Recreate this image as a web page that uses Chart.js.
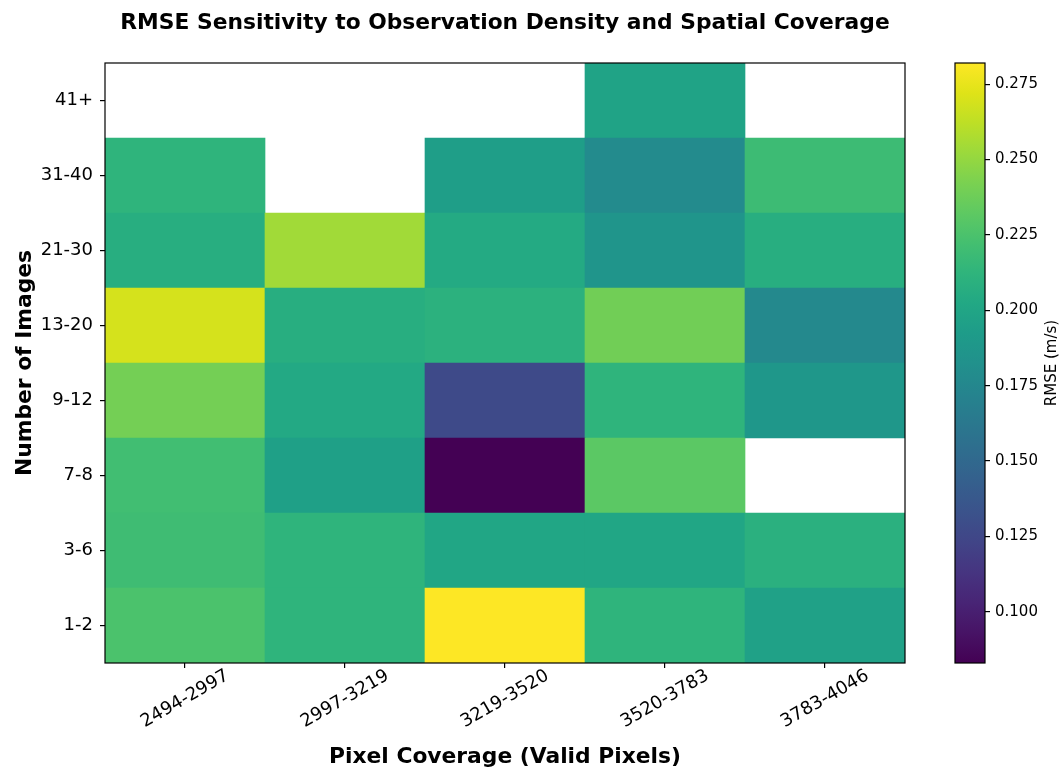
<!DOCTYPE html>
<html>
<head>
<meta charset="utf-8">
<script src="https://cdn.jsdelivr.net/npm/chart.js@4.4.1/dist/chart.umd.min.js"></script>
<style>
  html, body { margin: 0; padding: 0; background: #ffffff; }
  #wrap { position: relative; width: 1061px; height: 768px; overflow: hidden; background: #ffffff; }
  #heat { position: absolute; left: 0; top: 0; }
  #cbar { position: absolute; left: 940px; top: 0; }
</style>
</head>
<body>
<div id="wrap">
  <canvas id="heat" width="1010" height="768" style="width:1010px;height:768px"></canvas>
  <canvas id="cbar" width="121" height="768" style="width:121px;height:768px"></canvas>
</div>
<script>
// Column categories: valid-pixel coverage bins
const coverageBins = ['2494-2997', '2997-3219', '3219-3520', '3520-3783', '3783-4046'];
// Row categories: number of images used (bottom to top)
const imageBins = ['1-2', '3-6', '7-8', '9-12', '13-20', '21-30', '31-40', '41+'];

// RMSE (m/s) per coverage bin, one array per image-count bin; null = no data
const rmse_1_2   = [0.225, 0.212, 0.282, 0.212, 0.197];
const rmse_3_6   = [0.220, 0.212, 0.201, 0.201, 0.209];
const rmse_7_8   = [0.221, 0.196, 0.083, 0.231, null];
const rmse_9_12  = [0.240, 0.203, 0.127, 0.212, 0.188];
const rmse_13_20 = [0.269, 0.207, 0.210, 0.239, 0.176];
const rmse_21_30 = [0.207, 0.254, 0.204, 0.186, 0.207];
const rmse_31_40 = [0.212, null, 0.194, 0.178, 0.219];
const rmse_41    = [null, null, null, 0.198, null];

// Colorbar tick values
const colorbarTicks = [0.100, 0.125, 0.150, 0.175, 0.200, 0.225, 0.250, 0.275];

const chartTitle = 'RMSE Sensitivity to Observation Density and Spatial Coverage';

const rowValues = [rmse_1_2, rmse_3_6, rmse_7_8, rmse_9_12, rmse_13_20, rmse_21_30, rmse_31_40, rmse_41];

const allValues = rowValues.flat().filter(v => v !== null);
const vmin = Math.min(...allValues);
const vmax = Math.max(...allValues);

// Viridis colormap sampled every 0.05
const VIRIDIS = ['#440154', '#471365', '#482475', '#463480', '#414487', '#3b528b', '#355f8d',
  '#2f6c8e', '#2a788e', '#25848e', '#21918c', '#1e9c89', '#22a884', '#2fb47c', '#44bf70',
  '#5ec962', '#7ad151', '#9bd93c', '#bddf26', '#dfe318', '#fde725'];
const VIRIDIS_RGB = VIRIDIS.map(h => [1, 3, 5].map(i => parseInt(h.slice(i, i + 2), 16)));

function viridis(t) {
  t = Math.max(0, Math.min(1, t));
  const n = VIRIDIS_RGB.length - 1;
  const p = t * n;
  const i = Math.min(n - 1, Math.floor(p));
  const f = p - i;
  const a = VIRIDIS_RGB[i], b = VIRIDIS_RGB[i + 1];
  const c = a.map((v, k) => Math.round(v + (b[k] - v) * f));
  return 'rgb(' + c.join(',') + ')';
}
const colorFor = v => (v === null ? 'rgba(0,0,0,0)' : viridis((v - vmin) / (vmax - vmin)));

const FONT = '"DejaVu Sans", "Liberation Sans", sans-serif';

// One floating-bar dataset per image-count row; each bar spans one row band
const heatDatasets = rowValues.map((vals, r) => ({
  label: imageBins[r],
  data: vals.map(v => (v === null ? null : [r - 0.5, r + 0.5])),
  backgroundColor: vals.map(colorFor),
  borderWidth: 0,
  borderSkipped: false,
  barPercentage: 1.0,
  categoryPercentage: 1.0,
  grouped: false
}));

// Frame around the plotting area
const frame = {
  id: 'frame',
  afterDraw(chart) {
    const { ctx, chartArea: a } = chart;
    ctx.save();
    ctx.strokeStyle = '#000';
    ctx.lineWidth = 1.2;
    ctx.strokeRect(a.left, a.top, a.right - a.left, a.bottom - a.top);
    ctx.restore();
  }
};

// Title centred over the plotting area
const axesTitle = {
  id: 'axesTitle',
  afterDraw(chart) {
    const { ctx, chartArea: a } = chart;
    ctx.save();
    ctx.fillStyle = '#000';
    ctx.font = 'bold 21.8px ' + FONT;
    ctx.textAlign = 'center';
    ctx.textBaseline = 'middle';
    ctx.fillText(chartTitle, (a.left + a.right) / 2, 23);
    ctx.restore();
  }
};

// Rotated, centred coverage labels under the x ticks
const xTickLabels = {
  id: 'xTickLabels',
  afterDraw(chart) {
    const { ctx } = chart;
    const xs = chart.scales.x;
    ctx.save();
    ctx.fillStyle = '#000';
    ctx.font = '18px ' + FONT;
    ctx.textAlign = 'center';
    ctx.textBaseline = 'middle';
    coverageBins.forEach((lab, i) => {
      const x = xs.getPixelForValue(i);
      ctx.save();
      ctx.translate(x, chart.chartArea.bottom + 36);
      ctx.rotate(-Math.PI / 6);
      ctx.fillText(lab, 0, 0);
      ctx.restore();
    });
    ctx.restore();
  }
};

new Chart(document.getElementById('heat'), {
  type: 'bar',
  data: { labels: coverageBins, datasets: heatDatasets },
  options: {
    responsive: false,
    animation: false,
    layout: { padding: { left: 0, right: 105, top: 63, bottom: 0 } },
    plugins: {
      legend: { display: false },
      tooltip: { enabled: false },
      title: { display: false }
    },
    scales: {
      x: {
        type: 'category',
        offset: true,
        grid: { drawOnChartArea: false, drawTicks: true, tickLength: 5, color: '#000', lineWidth: 1.2, offset: false },
        border: { display: false },
        ticks: { display: false },
        title: {
          display: true,
          text: 'Pixel Coverage (Valid Pixels)',
          color: '#000',
          font: { family: FONT, size: 21.8, weight: 'bold', lineHeight: 1 },
          padding: { top: 0, bottom: 0 }
        },
        afterFit(scale) { scale.height = 105; }
      },
      y: {
        type: 'linear',
        min: -0.5,
        max: imageBins.length - 0.5,
        afterBuildTicks(scale) { scale.ticks = imageBins.map((_, i) => ({ value: i })); },
        grid: { drawOnChartArea: false, drawTicks: true, tickLength: 5, color: '#000', lineWidth: 1.2 },
        border: { display: false },
        ticks: {
          autoSkip: false,
          color: '#000',
          padding: 7,
          font: { family: FONT, size: 18 },
          callback: v => imageBins[v]
        },
        title: {
          display: true,
          text: 'Number of Images',
          color: '#000',
          font: { family: FONT, size: 21.8, weight: 'bold', lineHeight: 1 },
          padding: { top: 14, bottom: 0 }
        },
        afterFit(scale) { scale.width = 105; }
      }
    }
  },
  plugins: [frame, axesTitle, xTickLabels]
});

// Colorbar: one bar spanning the full data range, filled with the colormap
const cbarTitle = {
  id: 'cbarTitle',
  afterDraw(chart) {
    const { ctx, chartArea: a } = chart;
    ctx.save();
    ctx.fillStyle = '#000';
    ctx.font = '15px ' + FONT;
    ctx.textAlign = 'center';
    ctx.textBaseline = 'middle';
    ctx.translate(112, (a.top + a.bottom) / 2);
    ctx.rotate(-Math.PI / 2);
    ctx.fillText('RMSE (m/s)', 0, 0);
    ctx.restore();
  }
};

new Chart(document.getElementById('cbar'), {
  type: 'bar',
  data: {
    labels: [''],
    datasets: [{
      data: [[vmin, vmax]],
      backgroundColor(ctx) {
        const a = ctx.chart.chartArea;
        if (!a) return '#888';
        const g = ctx.chart.ctx.createLinearGradient(0, a.bottom, 0, a.top);
        VIRIDIS.forEach((c, i) => g.addColorStop(i / (VIRIDIS.length - 1), c));
        return g;
      },
      borderWidth: 0,
      borderSkipped: false,
      barPercentage: 1.0,
      categoryPercentage: 1.0
    }]
  },
  options: {
    responsive: false,
    animation: false,
    layout: { padding: { left: 15, right: 0, top: 63, bottom: 105 } },
    plugins: { legend: { display: false }, tooltip: { enabled: false } },
    scales: {
      x: { display: false, offset: true },
      y: {
        type: 'linear',
        position: 'right',
        min: vmin,
        max: vmax,
        afterBuildTicks(scale) { scale.ticks = colorbarTicks.map(v => ({ value: v })); },
        grid: { drawOnChartArea: false, drawTicks: true, tickLength: 5, color: '#000', lineWidth: 1.2 },
        border: { display: false },
        ticks: {
          autoSkip: false,
          color: '#000',
          padding: 5,
          font: { family: FONT, size: 15 },
          callback: v => v.toFixed(3)
        },
        afterFit(scale) { scale.width = 76; }
      }
    }
  },
  plugins: [frame, cbarTitle]
});
</script>
</body>
</html>
